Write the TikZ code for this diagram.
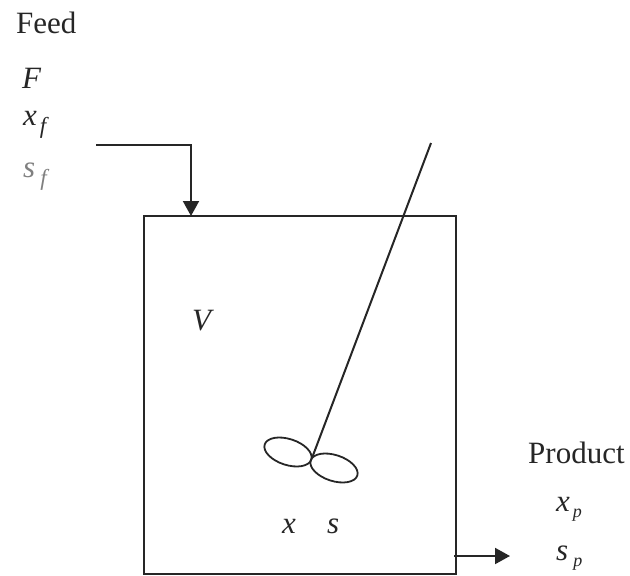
\documentclass[tikz,border=0pt]{standalone}
\usepackage{fontspec}
\setmainfont{Liberation Serif}
\usetikzlibrary{arrows.meta,shapes.geometric}
\tikzset{
  lbl/.style={inner sep=0pt,anchor=base west,font=\fontsize{31}{31}\selectfont,text=black!85},
  ivar/.style={lbl,font=\fontsize{31}{31}\selectfont\itshape},
  pipe/.style={line width=2pt,draw=black!85},
  flow/.style={pipe,-{Triangle[length=15pt,width=16pt]}},
  blade/.style={ellipse,draw=black!85,line width=1.8pt,minimum width=49pt,minimum height=26pt,inner sep=0pt,rotate=-18}
}
\begin{document}
\begin{tikzpicture}[x=1pt,y=-1pt]
\useasboundingbox (0,0) rectangle (630,576);
\node[rectangle,pipe,draw,outer sep=0pt,minimum width=312pt,minimum height=358pt,inner sep=0pt,anchor=north west] (vessel) at (144,216) {};
\node[blade] (bladeL) at (288,452) {};
\node[blade] (bladeR) at (334,468) {};
\coordinate (hub) at (312,458);
\coordinate (shaftTop) at (431,143);
\coordinate (feedStart) at (96,145);
\coordinate (feedBend) at (191,145);
\coordinate (feedEnd) at (191,216);
\coordinate (prodStart) at (454,556);
\coordinate (prodEnd) at (510,556);
\draw[pipe] (shaftTop) -- (hub);
\draw[flow] (feedStart) -- (feedBend) -- (feedEnd);
\draw[flow] (prodStart) -- (prodEnd);
\node[lbl] (feed) at (16,33) {Feed};
\node[ivar] (F) at (22,88) {F};
\node[ivar] (xf) at (23,125) {x\kern3pt\raisebox{-8pt}{\fontsize{23}{23}\selectfont f}};
\node[ivar,text=black!50] (sf) at (23,177) {s\kern5pt\raisebox{-8pt}{\fontsize{23}{23}\selectfont f}};
\node[ivar] (V) at (192,330) {V};
\node[ivar] (x) at (282,533) {x};
\node[ivar] (s) at (327,533) {s};
\node[lbl] (product) at (528,463) {Product};
\node[ivar] (xp) at (556,511) {x\kern3pt\raisebox{-6pt}{\fontsize{18}{18}\selectfont p}};
\node[ivar] (sp) at (556,560) {s\kern5pt\raisebox{-6pt}{\fontsize{18}{18}\selectfont p}};
\end{tikzpicture}
\end{document}
